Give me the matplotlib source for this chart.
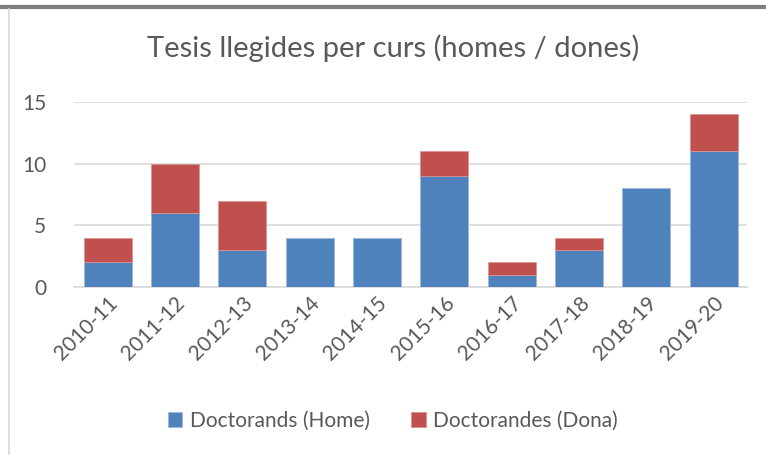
import matplotlib.pyplot as plt
from matplotlib.lines import Line2D

cursos = ['2010-11', '2011-12', '2012-13', '2013-14', '2014-15',
          '2015-16', '2016-17', '2017-18', '2018-19', '2019-20']
homes = [2, 6, 3, 4, 4, 9, 1, 3, 8, 11]
dones = [2, 4, 4, 0, 0, 2, 1, 1, 0, 3]

blue = '#4F81BD'
red = '#C0504D'
txt = '#595959'

plt.rcParams['font.family'] = ['Lato', 'DejaVu Sans']

fig = plt.figure(figsize=(7.66, 4.55), dpi=100)
ax = fig.add_axes([0.0966, 0.369, 0.879, 0.407])

x = range(len(cursos))
ax.bar(x, homes, width=0.71, color=blue, edgecolor='#9DB8DA', linewidth=0.6,
       label='Doctorands (Home)', zorder=3)
ax.bar(x, dones, width=0.71, bottom=homes, color=red, edgecolor='#D99594',
       linewidth=[0.6 if d else 0 for d in dones],
       label='Doctorandes (Dona)', zorder=3)

ax.set_xlim(-0.5, len(cursos) - 0.5)
ax.set_ylim(0, 15)
ax.set_yticks([0, 5, 10, 15])
ax.yaxis.grid(True, color='#D9D9D9', linewidth=1.2, zorder=0)
for s in ['top', 'right', 'left']:
    ax.spines[s].set_visible(False)
ax.spines['bottom'].set_color('#D9D9D9')
ax.spines['bottom'].set_linewidth(1.2)
ax.tick_params(axis='both', length=0, colors=txt, labelsize=15)
ax.tick_params(axis='y', pad=20)
ax.tick_params(axis='x', pad=4)
ax.set_xticks(list(x))
ax.set_xticklabels(cursos, rotation=45, ha='right', rotation_mode='anchor')

fig.text(0.513, 0.895, 'Tesis llegides per curs (homes / dones)',
         ha='center', va='center', fontsize=21, color=txt)

fig.legend(loc='center', bbox_to_anchor=(0.513, 0.075), ncol=2, frameon=False,
           fontsize=15, labelcolor=txt, handlelength=0.7, handleheight=0.7,
           handletextpad=0.35, columnspacing=2.0)

# frame lines of the original screenshot
fig.add_artist(Line2D([0, 1], [1 - 7 / 455, 1 - 7 / 455], color='#7F7F7F',
                      linewidth=3, transform=fig.transFigure))
fig.add_artist(Line2D([9 / 766, 9 / 766], [0, 1 - 9 / 455], color='#D9D9D9',
                      linewidth=1.2, transform=fig.transFigure))

fig.savefig('out.png', dpi=100)
